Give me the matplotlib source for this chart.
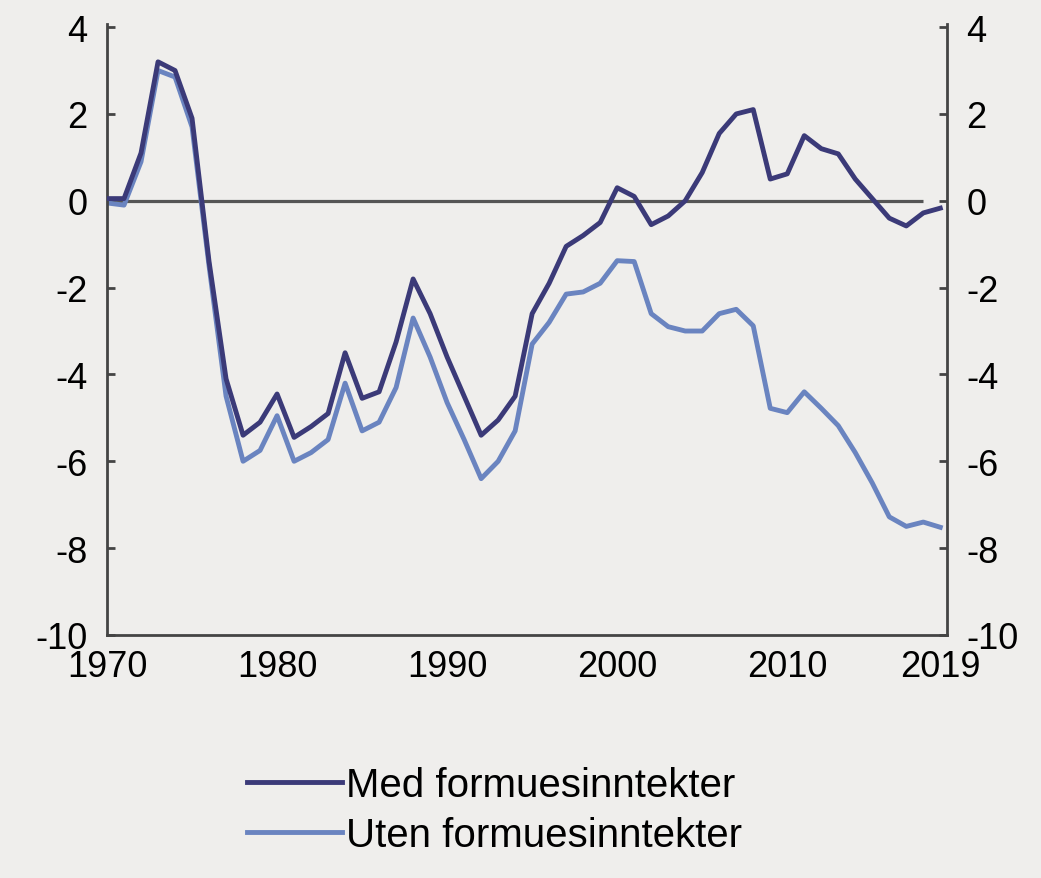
import matplotlib
matplotlib.use("Agg")
from matplotlib import pyplot as plt

plt.rcParams['font.family'] = ['Liberation Sans', 'DejaVu Sans']
plt.rcParams['axes.unicode_minus'] = False

# Annual data 1970-2019
years = list(range(1970, 2020))
med_formue = [0.05, 0.05, 1.1, 3.2, 3.0, 1.9, -1.4, -4.1, -5.4, -5.1,
              -4.45, -5.45, -5.2, -4.9, -3.5, -4.55, -4.4, -3.25, -1.8, -2.6,
              -3.6, -4.5, -5.4, -5.05, -4.5, -2.6, -1.9, -1.05, -0.8, -0.5,
              0.3, 0.1, -0.55, -0.35, 0.0, 0.65, 1.55, 2.0, 2.1, 0.5,
              0.62, 1.5, 1.2, 1.08, 0.5, 0.05, -0.4, -0.58, -0.28, -0.17]
uten_formue = [-0.05, -0.1, 0.9, 3.0, 2.85, 1.7, -1.5, -4.5, -6.0, -5.75,
               -4.95, -6.0, -5.8, -5.5, -4.2, -5.3, -5.1, -4.3, -2.7, -3.6,
               -4.65, -5.5, -6.4, -6.0, -5.3, -3.3, -2.8, -2.15, -2.1, -1.9,
               -1.38, -1.4, -2.6, -2.9, -3.0, -3.0, -2.6, -2.5, -2.88, -4.78,
               -4.88, -4.4, -4.78, -5.18, -5.8, -6.5, -7.28, -7.5, -7.4, -7.52]

labels = ['Med formuesinntekter', 'Uten formuesinntekter']
colors = ['#3b3a78', '#6a84c0']
bg = '#efeeec'

fig = plt.figure(figsize=(10.41, 8.79), dpi=100, facecolor=bg)
ax = fig.add_axes([0.1028, 0.2765, 0.807, 0.695], facecolor=bg)

# zero line stops just short of the last year
ax.hlines(0, 1970, 2018, color='#555555', linewidth=2.3, zorder=1)
ax.plot(years, med_formue, color=colors[0], linewidth=3.5, label=labels[0], zorder=3)
ax.plot(years, uten_formue, color=colors[1], linewidth=3.5, label=labels[1], zorder=2)

ax.set_xlim(1970, 2019.4)
ax.set_ylim(-10, 4.07)
ax.set_xticks([1970, 1980, 1990, 2000, 2010, 2019])
ax.set_yticks(range(-10, 5, 2))

ax.spines['top'].set_visible(False)
for side in ['left', 'right', 'bottom']:
    ax.spines[side].set_color('#444444')
    ax.spines[side].set_linewidth(2.0)

ax.tick_params(axis='y', direction='in', length=6, width=2.0, color='#444444',
               labelsize=26, pad=14, right=True, labelright=True)
ax.tick_params(axis='x', length=0, labelsize=26, pad=10)

fig.legend(loc='upper left', bbox_to_anchor=(0.222, 0.146), frameon=False,
           fontsize=29, handlelength=2.35, handletextpad=0.1, labelspacing=0.3,
           borderaxespad=0, handleheight=0.6)

fig.savefig('out.png', dpi=100, facecolor=bg)
